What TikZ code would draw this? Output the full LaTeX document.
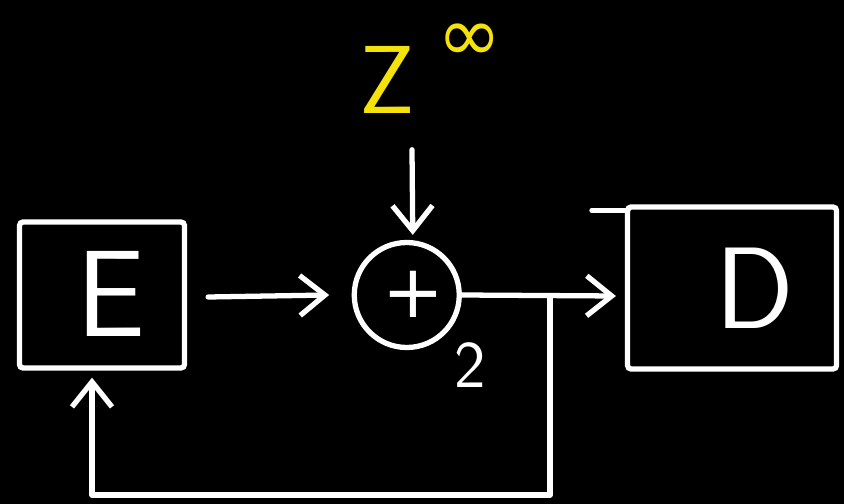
\documentclass[tikz,border=0pt]{standalone}
\usepackage{fontspec}
\usepackage{xcolor}
\usepackage{tikz}
\usetikzlibrary{positioning,arrows.meta,calc}
\newfontfamily\symfont{DejaVu Sans}
\definecolor{zyellow}{RGB}{245,226,10}

\begin{document}
\begin{tikzpicture}[node distance=3.3cm,
    every node/.style={text=white, font=\sffamily},
    block/.style={draw=white, line width=3pt, rounded corners=2pt, inner sep=0pt},
    adder/.style={circle, draw=white, line width=3pt, minimum size=2.1cm, inner sep=0pt},
    arrow/.style={-{Straight Barb[length=5mm, width=8mm, line width=3pt]}, line width=3pt, white, line cap=round, line join=round},
    wire/.style={line width=3pt, white, line cap=round, line join=round},
]
\fill[black] (0,0) rectangle (16.88,-10.08);
\useasboundingbox (0,0) rectangle (16.88,-10.08);

\node[block, minimum width=3.3cm, minimum height=2.92cm] (enc) at (2.04,-5.9) {};
\node[font=\sffamily\fontsize{70}{70}\selectfont] at (2.22,-5.88) {E};
\node[adder, right=3.29cm of enc] (sum) {};
\node[font=\symfont\fontsize{42}{42}\selectfont] at ($(sum)+(0.14,0.02)$) {+};
\node[font=\sffamily\fontsize{38}{38}\selectfont] (two) at (9.4,-7.3) {2};
\node[block, minimum width=4.18cm, minimum height=3.24cm, right=3.26cm of sum, yshift=0.14cm] (dec) {};
\node[font=\sffamily\fontsize{66}{66}\selectfont] at (15.1,-5.76) {D};
\node[text=zyellow, font=\sffamily\fontsize{55}{55}\selectfont] (z) at (7.74,-1.6) {Z};
\node[text=zyellow, inner sep=0pt, font=\symfont\fontsize{44}{44}\selectfont] (inf) at (9.4,-0.86) {∞};

\coordinate (br) at (11.0,-5.92);
\coordinate (bl) at (1.84,-9.9);

\draw[arrow] ($(enc.east)+(0.42,-0.04)$) -- ($(sum.west)-(0.45,0)$);
\draw[arrow] ($(z.south)+(0.5,-0.6)$) -- ($(sum.north)+(0.12,0.1)$);
\draw[arrow] (sum.east) -- ($(dec.west |- br)-(0.18,0)$);
\draw[wire] ($(dec.north west)+(0.06,-0.12)$) -- ++(-0.72,0);
\draw[arrow] (br) |- (bl) -- ($(enc.south -| bl)+(0,-0.14)$);
\end{tikzpicture}
\end{document}
